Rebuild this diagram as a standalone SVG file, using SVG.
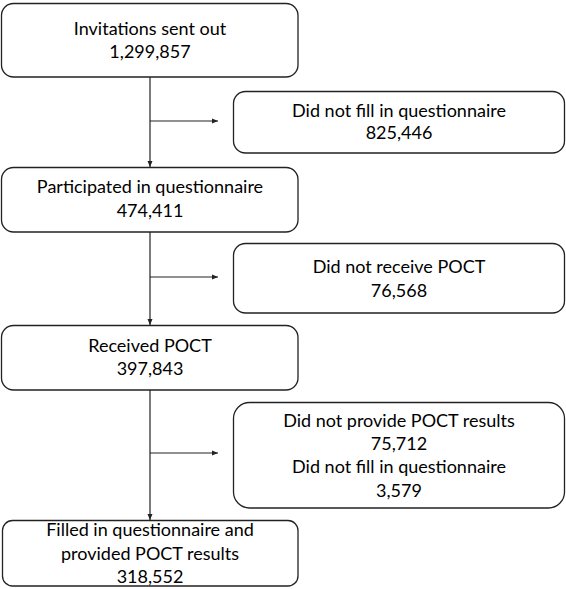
<svg xmlns="http://www.w3.org/2000/svg" width="566" height="589" viewBox="0 0 566 589">
<style>
.box{fill:#fff;stroke:#222;stroke-width:1.3}
.t{font-family:Lato,"Liberation Sans",sans-serif;font-size:18px;fill:#000;text-anchor:middle}
.c{stroke:#222;stroke-width:1.2;fill:none;marker-end:url(#ah)}
</style>
<defs>
<marker id="ah" markerUnits="userSpaceOnUse" markerWidth="7" markerHeight="6" refX="6" refY="3" orient="auto">
<path d="M0,0.5 L6,3 L0,5.5 z" fill="#222"/>
</marker>
</defs>
<rect width="566" height="589" fill="#fff"/>
<g id="connectors">
<line class="c" x1="150" y1="77" x2="150" y2="167"/>
<line class="c" x1="150" y1="121" x2="218" y2="121"/>
<line class="c" x1="150" y1="232" x2="150" y2="325"/>
<line class="c" x1="150" y1="277" x2="218" y2="277"/>
<line class="c" x1="150" y1="390" x2="150" y2="520"/>
<line class="c" x1="150" y1="453" x2="218" y2="453"/>
</g>
<g id="n1">
<rect class="box" x="1.5" y="3.5" width="296.5" height="73.5" rx="12"/>
<text class="t" x="150" y="35">Invitations sent out</text>
<text class="t" x="150" y="58">1,299,857</text>
</g>
<g id="r1">
<rect class="box" x="233.5" y="91.5" width="331" height="61.5" rx="12"/>
<text class="t" x="399" y="117">Did not fill in questionnaire</text>
<text class="t" x="399" y="139">825,446</text>
</g>
<g id="n2">
<rect class="box" x="1.5" y="167.5" width="296.5" height="64.5" rx="12"/>
<text class="t" x="150" y="193">Participated in questionnaire</text>
<text class="t" x="150" y="217">474,411</text>
</g>
<g id="r2">
<rect class="box" x="233.5" y="243.5" width="331" height="69.5" rx="12"/>
<text class="t" x="399" y="273">Did not receive POCT</text>
<text class="t" x="399" y="297">76,568</text>
</g>
<g id="n3">
<rect class="box" x="1.5" y="325.5" width="296.5" height="64.5" rx="12"/>
<text class="t" x="150" y="352">Received POCT</text>
<text class="t" x="150" y="375">397,843</text>
</g>
<g id="r3">
<rect class="box" x="233.5" y="402.5" width="331" height="105.5" rx="16"/>
<text class="t" x="399" y="427">Did not provide POCT results</text>
<text class="t" x="399" y="450">75,712</text>
<text class="t" x="399" y="473">Did not fill in questionnaire</text>
<text class="t" x="399" y="497">3,579</text>
</g>
<g id="n4">
<rect class="box" x="2.5" y="520.5" width="295.5" height="65.5" rx="10"/>
<text class="t" x="150" y="536">Filled in questionnaire and</text>
<text class="t" x="150" y="560">provided POCT results</text>
<text class="t" x="150" y="583">318,552</text>
</g>
</svg>
